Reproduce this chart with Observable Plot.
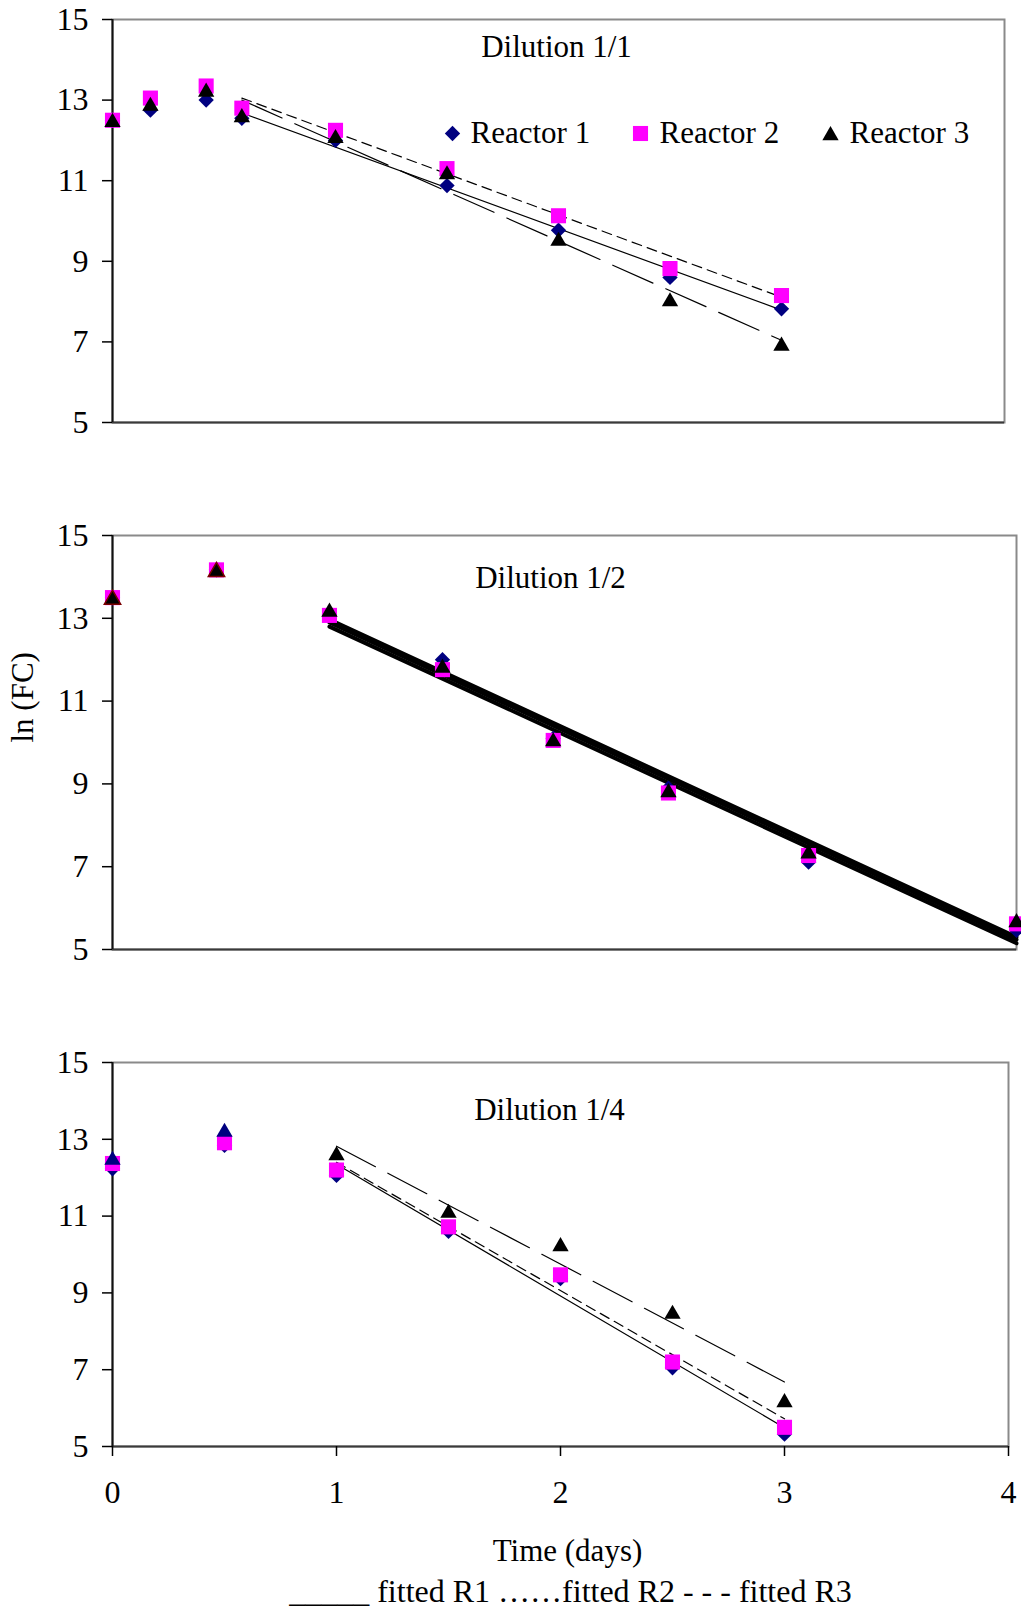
<!DOCTYPE html>
<html><head><meta charset="utf-8">
<script src="https://cdn.jsdelivr.net/npm/d3@7"></script>
<script src="https://cdn.jsdelivr.net/npm/@observablehq/plot@0.6"></script>
<style>
body{margin:0;background:#fff;}
#wrap{position:relative;width:1021px;height:1616px;background:#fff;overflow:hidden;}
#wrap svg{position:absolute;left:0;}
#wrap svg text{font-family:'Liberation Serif','Times New Roman',serif;}
</style></head><body><div id="wrap"></div>
<script>
// ---------- data ----------
const xDomain = [0, 4];
const yDomain = [5, 15];
const yTicks = [5, 7, 9, 11, 13, 15];
const xTicks = [0, 1, 2, 3, 4];
const seriesNames = ["Reactor 1", "Reactor 2", "Reactor 3"];
const panelTitles = ["Dilution 1/1", "Dilution 1/2", "Dilution 1/4"];
const xLabel = "Time (days)";
const yLabel = "ln (FC)";
const fitLegend = "_____ fitted R1 ……fitted R2 - - - fitted R3";

// Dilution 1/1
const days1 = [0, 0.17, 0.42, 0.58, 1, 1.5, 2, 2.5, 3];
const r1Dil1 = [12.5, 12.75, 13.0, 12.55, 12.0, 10.88, 9.77, 8.6, 7.82];
const r2Dil1 = [12.5, 13.05, 13.35, 12.8, 12.25, 11.3, 10.13, 8.82, 8.15];
const r3Dil1 = [12.5, 12.9, 13.25, 12.62, 12.1, 11.2, 9.55, 8.05, 6.95];
const fitDays1 = [0.58, 3];
const fitR1Dil1 = [12.68, 7.79];
const fitR2Dil1 = [13.05, 8.11];
const fitR3Dil1 = [13.0, 7.04];

// Dilution 1/2
const days2 = [0, 0.46, 0.96, 1.46, 1.95, 2.46, 3.08, 4.0];
const r1Dil2 = [13.5, 14.17, 13.1, 12.0, 10.1, 8.9, 7.11, 5.46];
const r2Dil2 = [13.5, 14.17, 13.07, 11.76, 10.05, 8.78, 7.27, 5.62];
const r3Dil2 = [13.5, 14.17, 13.2, 11.85, 10.07, 8.84, 7.36, 5.7];
const fitDays2 = [0.96, 4];
const fitR1Dil2 = [12.8, 5.15];
const fitR2Dil2 = [12.9, 5.24];
const fitR3Dil2 = [12.97, 5.3];

// Dilution 1/4
const days3 = [0, 0.5, 1.0, 1.5, 2.0, 2.5, 3.0];
const r1Dil3 = [12.23, 12.84, 12.06, 10.6, 9.37, 7.05, 5.32];
const r2Dil3 = [12.37, 12.91, 12.2, 10.72, 9.47, 7.2, 5.5];
const r3Dil3 = [12.51, 13.24, 12.63, 11.13, 10.26, 8.5, 6.2];
const fitDays3 = [1, 3];
const fitR1Dil3 = [12.35, 5.49];
const fitR2Dil3 = [12.4, 5.72];
const fitR3Dil3 = [12.82, 6.68];

// ---------- styles ----------
const FONT = "'Liberation Serif','Times New Roman',serif";
const NAVY = "#000080", MAGENTA = "#ff00ff", BLACK = "#000";
const SYM = {
  r1: {symbol: "diamond2", fill: NAVY, r: 6.9},
  r2: {symbol: "square2", fill: MAGENTA, r: 9.6},
  r3: {symbol: "triangle2", fill: BLACK, r: 7.8, dy: 2}
};

const table = (days, vals) => days.map((t, i) => ({t, v: vals[i]}));

function panel(cfg) {
  const marks = [
    Plot.frame({stroke: "#8a8a8a", strokeWidth: 2}),
    Plot.ruleY([yDomain[0]], {stroke: "#3a3a3a", strokeWidth: 2}),
    Plot.ruleX([xDomain[0]], {stroke: "#111", strokeWidth: 2}),
    Plot.axisY(yTicks, {tickSize: 10, tickPadding: 14, fontSize: 32, fontFamily: FONT, strokeWidth: 1.5, tickFormat: d3.format("d"), label: null})
  ];
  if (cfg.xAxis) {
    marks.push(Plot.axisX(xTicks, {tickSize: 10, tickPadding: 24, fontSize: 32, fontFamily: FONT, strokeWidth: 1.5, tickFormat: d3.format("d"), label: null}));
  }
  const fitStyles = cfg.thick
    ? [{strokeWidth: 4}, {strokeWidth: 4}, {strokeWidth: 4}]
    : [{strokeWidth: 1.2}, {strokeWidth: 1.2, strokeDasharray: "10,6"}, {strokeWidth: 1.2, strokeDasharray: "44,14"}];
  cfg.fits.forEach((f, k) => {
    marks.push(Plot.line(table(cfg.fitDays, f), {x: "t", y: "v", stroke: BLACK, ...fitStyles[k]}));
  });
  marks.push(Plot.dot(table(cfg.days, cfg.r1), {x: "t", y: "v", ...SYM.r1}));
  marks.push(Plot.dot(table(cfg.days, cfg.r2), {x: "t", y: "v", ...SYM.r2}));
  const r3rows = table(cfg.days, cfg.r3);
  if (cfg.earlyTriangle) {
    marks.push(Plot.dot(r3rows, {x: "t", y: "v", ...SYM.r3, filter: d => d.t < 0.75, ...cfg.earlyTriangle}));
    marks.push(Plot.dot(r3rows, {x: "t", y: "v", ...SYM.r3, filter: d => d.t >= 0.75}));
  } else {
    marks.push(Plot.dot(r3rows, {x: "t", y: "v", ...SYM.r3}));
  }
  marks.push(Plot.text([cfg.title], {frameAnchor: "top", dx: cfg.titleDx, dy: cfg.titleDy, lineAnchor: "middle", fontSize: 31, fontFamily: FONT, fill: BLACK}));
  if (cfg.extra) marks.push(...cfg.extra);
  return Plot.plot({
    width: 1021,
    height: cfg.height,
    marginLeft: 112,
    marginRight: cfg.marginRight,
    marginTop: cfg.marginTop,
    marginBottom: cfg.marginBottom,
    x: {domain: xDomain, axis: cfg.xAxis ? undefined : null},
    y: {domain: yDomain},
    style: {fontFamily: FONT, fontSize: "31px", background: "transparent", color: "#000", overflow: "visible"},
    marks
  });
}

const legendMarks = [
  Plot.dot([seriesNames[0]], {frameAnchor: "top-left", dx: 340, dy: 114, ...SYM.r1}),
  Plot.text([seriesNames[0]], {frameAnchor: "top-left", dx: 358, dy: 114, textAnchor: "start", lineAnchor: "middle", fontSize: 31, fontFamily: FONT}),
  Plot.dot([seriesNames[1]], {frameAnchor: "top-left", dx: 528, dy: 114, ...SYM.r2}),
  Plot.text([seriesNames[1]], {frameAnchor: "top-left", dx: 547, dy: 114, textAnchor: "start", lineAnchor: "middle", fontSize: 31, fontFamily: FONT}),
  Plot.dot([seriesNames[2]], {frameAnchor: "top-left", dx: 718, dy: 116, symbol: "triangle2", fill: BLACK, r: 7.8}),
  Plot.text([seriesNames[2]], {frameAnchor: "top-left", dx: 737, dy: 114, textAnchor: "start", lineAnchor: "middle", fontSize: 31, fontFamily: FONT})
];

const p1 = panel({
  height: 460, marginTop: 19, marginBottom: 38, marginRight: 17,
  days: days1, r1: r1Dil1, r2: r2Dil1, r3: r3Dil1,
  fitDays: fitDays1, fits: [fitR1Dil1, fitR2Dil1, fitR3Dil1],
  title: panelTitles[0], titleDx: -2, titleDy: 28,
  extra: legendMarks
});

const p2 = panel({
  height: 500, marginTop: 55, marginBottom: 31, marginRight: 5,
  days: days2, r1: r1Dil2, r2: r2Dil2, r3: r3Dil2,
  fitDays: fitDays2, fits: [fitR1Dil2, fitR2Dil2, fitR3Dil2], thick: true,
  earlyTriangle: {stroke: "#7a0000", strokeWidth: 1.5},
  title: panelTitles[1], titleDx: -14, titleDy: 43,
  extra: [Plot.text([yLabel], {frameAnchor: "left", dx: -89, rotate: -90, lineAnchor: "middle", fontSize: 31, fontFamily: FONT})]
});

const p3 = panel({
  height: 616, marginTop: 62, marginBottom: 170, marginRight: 13, xAxis: true,
  days: days3, r1: r1Dil3, r2: r2Dil3, r3: r3Dil3,
  fitDays: fitDays3, fits: [fitR1Dil3, fitR2Dil3, fitR3Dil3],
  earlyTriangle: {fill: NAVY},
  title: panelTitles[2], titleDx: -11, titleDy: 48,
  extra: [
    Plot.text([xLabel], {frameAnchor: "bottom", dx: 7, dy: 105, lineAnchor: "middle", fontSize: 31, fontFamily: FONT}),
    Plot.text([fitLegend], {frameAnchor: "bottom", dx: 10, dy: 145, lineAnchor: "middle", fontSize: 32, fontFamily: FONT})
  ]
});

const wrap = document.getElementById("wrap");
[[p1, 0], [p2, 480], [p3, 1000]].forEach(([svg, top]) => {
  svg.style.top = top + "px";
  wrap.appendChild(svg);
});
</script></body></html>
